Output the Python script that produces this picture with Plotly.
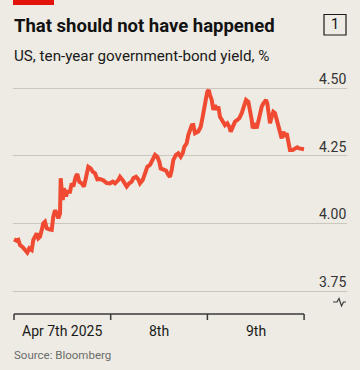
import pandas as pd
import plotly.graph_objects as go

# ---- data ----
# hours since 2025-04-07 00:00
hours = [0.00, 0.67, 1.07, 1.49, 2.16, 2.73, 3.30, 3.80, 4.39, 4.79, 5.29, 5.63, 6.03, 6.45,
         6.88, 7.27, 7.69, 8.12, 8.76, 9.36, 9.75, 10.18, 10.60, 11.00, 11.42, 11.59, 11.84,
         12.09, 12.41, 12.91, 13.23, 13.90, 14.32, 14.72, 15.31, 15.71, 16.21, 16.80, 17.37,
         17.87, 18.44, 19.04, 19.53, 20.10, 20.68, 21.35, 22.16, 23.01, 23.83, 24.50, 25.07,
         25.89, 26.31, 26.98, 27.55, 27.97, 28.62, 29.21, 29.61, 30.28, 30.85, 31.27, 31.94,
         32.51, 33.09, 33.76, 34.18, 34.58, 35.00, 35.57, 36.06, 36.41, 37.06, 37.73, 38.30,
         38.72, 39.14, 39.54, 40.21, 40.78, 41.37, 41.87, 42.27, 42.86, 43.26, 43.68, 44.11,
         44.50, 44.93, 45.74, 46.34, 46.84, 47.16, 47.66, 47.98, 48.33, 48.65, 49.07, 49.47,
         49.89, 50.31, 50.71, 51.13, 51.80, 52.37, 52.94, 53.44, 53.79, 54.28, 54.86, 55.43,
         55.92, 56.52, 57.09, 57.59, 58.16, 58.58, 59.00, 59.25, 59.82, 60.24, 60.64, 61.06,
         61.48, 61.88, 62.55, 62.87, 63.12, 63.54, 63.96, 64.36, 64.78, 65.20, 65.60, 66.02,
         66.44, 66.84, 67.26, 67.68, 68.08, 68.50, 69.17, 69.74, 70.32, 70.81, 71.41, 71.98]
yields = [3.941, 3.936, 3.939, 3.920, 3.912, 3.904, 3.892, 3.908, 3.902, 3.939, 3.953, 3.963,
          3.945, 3.951, 3.976, 4.000, 4.006, 3.982, 3.978, 3.976, 4.025, 4.049, 4.037, 4.019,
          4.037, 4.167, 4.123, 4.086, 4.130, 4.099, 4.117, 4.117, 4.148, 4.136, 4.172, 4.182,
          4.154, 4.148, 4.136, 4.172, 4.209, 4.203, 4.191, 4.185, 4.163, 4.164, 4.159, 4.149,
          4.148, 4.154, 4.148, 4.160, 4.172, 4.160, 4.145, 4.136, 4.148, 4.154, 4.167, 4.172,
          4.163, 4.148, 4.160, 4.185, 4.209, 4.216, 4.228, 4.246, 4.253, 4.246, 4.228, 4.203,
          4.197, 4.195, 4.179, 4.172, 4.197, 4.234, 4.253, 4.259, 4.246, 4.259, 4.283, 4.296,
          4.326, 4.351, 4.362, 4.363, 4.333, 4.339, 4.357, 4.394, 4.431, 4.462, 4.486, 4.493,
          4.474, 4.456, 4.419, 4.437, 4.419, 4.431, 4.394, 4.376, 4.363, 4.370, 4.357, 4.339,
          4.357, 4.376, 4.382, 4.388, 4.407, 4.437, 4.456, 4.449, 4.419, 4.382, 4.351, 4.370,
          4.351, 4.382, 4.407, 4.431, 4.443, 4.456, 4.443, 4.407, 4.370, 4.394, 4.412, 4.407,
          4.382, 4.357, 4.333, 4.314, 4.339, 4.320, 4.333, 4.296, 4.271, 4.271, 4.277, 4.281,
          4.277, 4.277, 4.274]
y_ticks = [3.75, 4.00, 4.25, 4.50]
y_tick_labels = ["3.75", "4.00", "4.25", "4.50"]
day_starts = ["2025-04-07", "2025-04-08", "2025-04-09", "2025-04-10"]
day_mids = ["2025-04-07 12:00", "2025-04-08 12:00", "2025-04-09 12:00"]
day_labels = ["Apr 7th 2025", "8th", "9th"]

title = "That should not have happened"
subtitle = "US, ten-year government-bond yield, %"
source = "Source: Bloomberg"

# ---- style ----
BG = "#EDEBE3"
RED = "#E3120B"
LINE = "#F04B32"
GRID = "#C9C7BE"
AXIS = "#3A3A3A"
FONT = "Roboto"

W, H = 360, 370
ML, MR, MT, MB = 13, 13, 85, 55
PW, PH = W - ML - MR, H - MT - MB

base = pd.Timestamp("2025-04-07")
times = base + pd.to_timedelta(hours, unit="h")

def px_x(p):
    return (p - ML) / PW

def px_y(p):
    return (H - MB - p) / PH

fig = go.Figure()
fig.add_trace(go.Scatter(x=times, y=yields, mode="lines",
                         line=dict(color=LINE, width=4), hoverinfo="skip"))

x_lo = base - pd.Timedelta(hours=0.25)
x_hi = base + pd.Timedelta(hours=82.65)

fig.update_layout(
    width=W, height=H,
    margin=dict(l=ML, r=MR, t=MT, b=MB),
    paper_bgcolor=BG, plot_bgcolor=BG,
    showlegend=False,
    font=dict(family=FONT, color="#1a1a1a"),
    xaxis=dict(type="date", range=[x_lo, x_hi], showgrid=False, showticklabels=False,
               zeroline=False, showline=False, ticks=""),
    yaxis=dict(range=[3.6618, 4.5111], tickvals=y_ticks, showticklabels=False,
               showgrid=True, gridcolor=GRID, gridwidth=1.2, zeroline=False,
               showline=False, ticks=""),
)

shapes = []
# red top bar
shapes.append(dict(type="rect", xref="paper", yref="paper",
                   x0=px_x(13), x1=px_x(54), y0=px_y(0), y1=px_y(5),
                   fillcolor=RED, line=dict(width=0)))
# numbered box
shapes.append(dict(type="rect", xref="paper", yref="paper",
                   x0=px_x(324), x1=px_x(346), y0=px_y(14.5), y1=px_y(35),
                   fillcolor="rgba(0,0,0,0)", line=dict(color="#1a1a1a", width=1.2)))
# x axis line
axis_y = px_y(314)
shapes.append(dict(type="line", xref="x", yref="paper",
                   x0=day_starts[0], x1=day_starts[-1], y0=axis_y, y1=axis_y,
                   line=dict(color=AXIS, width=1.5)))
for d in day_starts:
    shapes.append(dict(type="line", xref="x", yref="paper",
                       x0=d, x1=d, y0=axis_y, y1=px_y(320),
                       line=dict(color=AXIS, width=1.5)))
# axis break symbol under 3.75
bx = [333, 337, 339, 341.5, 343.5, 346]
by = [302, 302, 298.5, 306, 302, 302]
path = "M " + " L ".join(f"{px_x(a)},{px_y(b)}" for a, b in zip(bx, by))
shapes.append(dict(type="path", xref="paper", yref="paper", path=path,
                   line=dict(color=AXIS, width=1.2)))
fig.update_layout(shapes=shapes)

ann = []
ann.append(dict(text=f"<b>{title}</b>", xref="paper", yref="paper",
                x=px_x(12), y=px_y(26), xanchor="left", yanchor="middle",
                showarrow=False, font=dict(size=18.5, family=FONT, color="#121212")))
ann.append(dict(text="1", xref="paper", yref="paper",
                x=px_x(335), y=px_y(25), xanchor="center", yanchor="middle",
                showarrow=False, font=dict(size=14.5, family=FONT, color="#121212")))
ann.append(dict(text=subtitle, xref="paper", yref="paper",
                x=px_x(12), y=px_y(56), xanchor="left", yanchor="middle",
                showarrow=False, font=dict(size=15.2, family=FONT, color="#1a1a1a")))
for v, t in zip(y_ticks, y_tick_labels):
    ann.append(dict(text=t, xref="paper", yref="y", x=px_x(346.5), y=v,
                    xanchor="right", yanchor="bottom", showarrow=False, borderpad=0,
                    font=dict(size=14, family=FONT, color="#333333")))
for d, t in zip(day_mids, day_labels):
    ann.append(dict(text=t, xref="x", yref="paper", x=d, y=px_y(331),
                    xanchor="center", yanchor="middle", showarrow=False,
                    font=dict(size=14, family=FONT, color="#1a1a1a")))
ann.append(dict(text=source, xref="paper", yref="paper",
                x=px_x(12), y=px_y(354.5), xanchor="left", yanchor="middle",
                showarrow=False, font=dict(size=11.5, family=FONT, color="#6b6b6b")))
fig.update_layout(annotations=ann)

fig.write_html("out.html", config={"displayModeBar": False},
               post_script="document.body.style.margin='0';")
